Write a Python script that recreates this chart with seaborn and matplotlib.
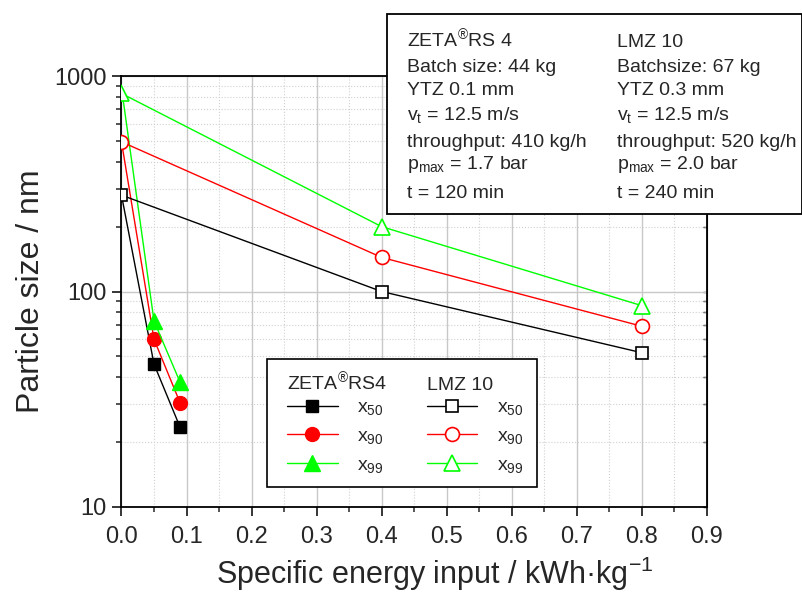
import numpy as np
import pandas as pd
import seaborn as sns
import matplotlib.pyplot as plt
from matplotlib.lines import Line2D
from matplotlib.patches import Rectangle
from matplotlib.ticker import LogLocator, MultipleLocator, NullFormatter

# ZETA RS4 (filled symbols); first point at 0 kWh/kg has no marker
energy_zeta = [0.0, 0.05, 0.09]
zeta_x50 = [280, 46, 23.5]
zeta_x90 = [495, 60, 30.5]
zeta_x99 = [880, 73, 38]

# LMZ 10 (open symbols)
energy_lmz = [0.0, 0.4, 0.8]
lmz_x50 = [280, 100, 52]
lmz_x90 = [495, 144, 69]
lmz_x99 = [830, 200, 86]

quantiles = ["x$_{\\mathregular{50}}$", "x$_{\\mathregular{90}}$", "x$_{\\mathregular{99}}$"]
colors = ["black", "#ff0000", "#00ff00"]
markers = ["s", "o", "^"]
msizes = [9, 10, 11]

xticks = [0.0, 0.1, 0.2, 0.3, 0.4, 0.5, 0.6, 0.7, 0.8, 0.9]
yticks = [10, 100, 1000]
ytick_labels = ["10", "100", "1000"]

info_zeta = ["ZETA$^{\\mathregular{®}}$RS 4", "Batch size: 44 kg", "YTZ 0.1 mm",
             "v$_{\\mathregular{t}}$ = 12.5 m/s", "throughput: 410 kg/h",
             "p$_{\\mathregular{max}}$ = 1.7 bar", "t = 120 min"]
info_lmz = ["LMZ 10", "Batchsize: 67 kg", "YTZ 0.3 mm",
            "v$_{\\mathregular{t}}$ = 12.5 m/s", "throughput: 520 kg/h",
            "p$_{\\mathregular{max}}$ = 2.0 bar", "t = 240 min"]

sns.set_style("ticks")
plt.rcParams["font.family"] = ["Liberation Sans", "DejaVu Sans"]
plt.rcParams["mathtext.fontset"] = "custom"
plt.rcParams["mathtext.rm"] = "Liberation Sans"
plt.rcParams["mathtext.it"] = "Liberation Sans:italic"

fig = plt.figure(figsize=(8.03, 5.92), dpi=100)
ax = fig.add_axes([0.1513, 0.1436, 0.7288, 0.728])

zeta = [zeta_x50, zeta_x90, zeta_x99]
lmz = [lmz_x50, lmz_x90, lmz_x99]
for i in range(3):
    sns.lineplot(x=energy_zeta, y=zeta[i], ax=ax, color=colors[i], lw=1, sort=False,
                 marker=markers[i], markersize=msizes[i], markerfacecolor=colors[i],
                 markeredgecolor=colors[i], markeredgewidth=1, markevery=[1, 2])
for i in range(3):
    sns.lineplot(x=energy_lmz, y=lmz[i], ax=ax, color=colors[i], lw=1, sort=False,
                 marker=markers[i], markersize=msizes[i], markerfacecolor="white",
                 markeredgecolor=colors[i], markeredgewidth=1.2, zorder=3)

ax.set_yscale("log")
ax.set_xlim(0, 0.9)
ax.set_ylim(10, 1000)
ax.set_xticks(xticks)
ax.xaxis.set_minor_locator(MultipleLocator(0.05))
ax.set_yticks(yticks, labels=ytick_labels)
ax.yaxis.set_minor_locator(LogLocator(base=10, subs=np.arange(2, 10)))
ax.yaxis.set_minor_formatter(NullFormatter())

ax.set_axisbelow(True)
ax.grid(which="major", color="#c8c8c8", lw=1, ls="-")
ax.grid(which="minor", color="#d0d0d0", lw=0.8, ls=":")
for s in ax.spines.values():
    s.set_linewidth(1.3)
    s.set_color("black")
ax.tick_params(which="major", direction="out", length=6.5, width=1.3, labelsize=17, pad=4)
ax.tick_params(axis="x", which="major", pad=7)
ax.tick_params(which="minor", direction="out", length=3.5, width=1.1)

sec = ax.secondary_yaxis("right")
sec.tick_params(which="both", direction="in", length=3, width=1, labelright=False)
sec.set_yticks(yticks)
sec.yaxis.set_minor_locator(LogLocator(base=10, subs=np.arange(2, 10)))
sec.yaxis.set_minor_formatter(NullFormatter())
sec.set_yticklabels([])

ax.set_xlabel("Specific energy input / kWh·kg$^{\\mathregular{-1}}$", fontsize=22)
ax.xaxis.set_label_coords(0.535, -0.1116)
ax.xaxis.label.set_va("top")
ax.set_ylabel("Particle size / nm", fontsize=23, labelpad=6)

# legend: shared frame, two column headers, two legends
ax.add_patch(Rectangle((0.2486, 0.0464), 0.461, 0.297, transform=ax.transAxes,
                       facecolor="white", edgecolor="black", lw=1.2, zorder=4))
ax.text(0.2828, 0.2709, "ZETA$^{\\mathregular{®}}$RS4", transform=ax.transAxes,
        fontsize=14, va="baseline", zorder=6)
ax.text(0.5215, 0.2709, "LMZ 10", transform=ax.transAxes,
        fontsize=14, va="baseline", zorder=6)
legend_kw = dict(frameon=False, fontsize=14, loc="upper left", handlelength=2.6,
                 handletextpad=1.0, labelspacing=0.52, borderpad=0, borderaxespad=0)
h_zeta = [Line2D([], [], color=c, marker=m, markersize=ms, markerfacecolor=c,
                 markeredgecolor=c, lw=1) for c, m, ms in zip(colors, markers, msizes)]
h_lmz = [Line2D([], [], color=c, marker=m, markersize=ms, markerfacecolor="white",
                markeredgecolor=c, markeredgewidth=1.2, lw=1)
         for c, m, ms in zip(colors, markers, msizes)]
leg1 = ax.legend(handles=h_zeta, labels=quantiles, bbox_to_anchor=(0.2828, 0.251), **legend_kw)
leg1.set_zorder(5)
ax.add_artist(leg1)
leg2 = ax.legend(handles=h_lmz, labels=quantiles, bbox_to_anchor=(0.5215, 0.251), **legend_kw)
leg2.set_zorder(5)

# parameter box overlapping the top of the plot
fig.add_artist(Rectangle((0.4819, 0.6385), 0.5168, 0.3378, transform=fig.transFigure,
                         facecolor="white", edgecolor="black", lw=1.3, zorder=10))
baselines = [46.7, 71.7, 95, 120, 146.7, 169, 198]
for yb, t1, t2 in zip(baselines, info_zeta, info_lmz):
    fig.text(407 / 803, 1 - yb / 592, t1, fontsize=14, va="baseline", zorder=11)
    fig.text(617 / 803, 1 - yb / 592, t2, fontsize=14, va="baseline", zorder=11)

fig.savefig("out.png", dpi=100)
plt.close(fig)
